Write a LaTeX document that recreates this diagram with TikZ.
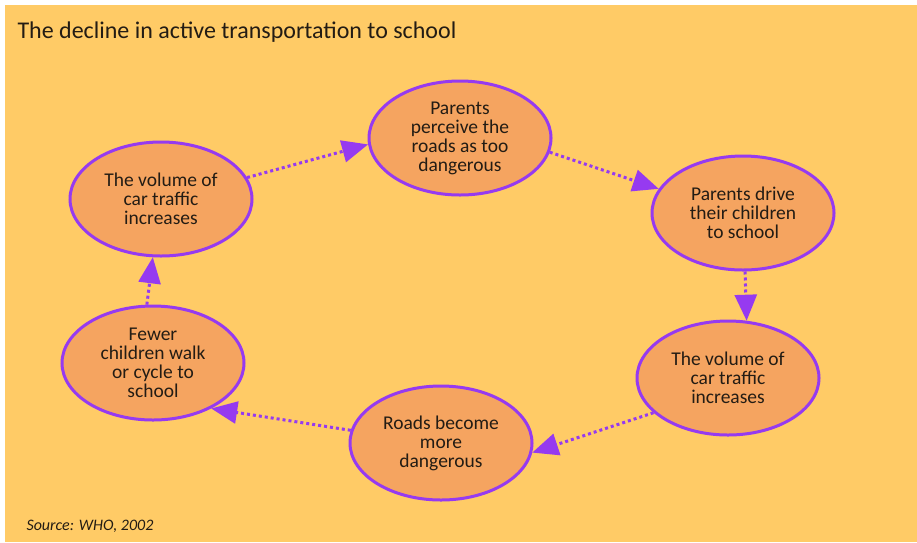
\documentclass[tikz,border=0pt]{standalone}
\usepackage{fontspec}
\setmainfont{Carlito}
\usetikzlibrary{calc,shapes.geometric,arrows.meta}
\definecolor{fond}{RGB}{255,203,102}
\definecolor{bulle}{RGB}{245,164,96}
\definecolor{pourpre}{RGB}{150,58,240}
\definecolor{texte}{RGB}{35,28,20}

\begin{document}
\begin{tikzpicture}[x=1pt,y=-1pt,
    bulle/.style={ellipse,draw=pourpre,fill=bulle,line width=3pt,
      minimum width=182pt,minimum height=114pt,inner sep=0pt,align=center,
      text=texte,font=\fontsize{19.5}{19}\selectfont},
    fleche/.style={draw=pourpre,line width=3pt,dash pattern=on 3pt off 3pt,
      -{Triangle[length=26pt,width=22pt]}}]
      % CADRE
      \useasboundingbox (0,0) rectangle (917,542);
      \fill[fond] (5,5) rectangle (917,542);

      % CENTRES DES BULLES
      \coordinate (C1) at (460,138);
      \coordinate (C2) at (743,213);
      \coordinate (C3) at (728,378);
      \coordinate (C4) at (441,443);
      \coordinate (C5) at (153,363);
      \coordinate (C6) at (161,199);

      % TITRE ET SOURCE
      \node[anchor=base west,text=texte,font=\fontsize{24}{28}\selectfont] (titre) at (14,38) {The decline in active transportation to school};
      \node[anchor=base west,text=texte,font=\fontsize{16}{18}\selectfont\itshape] (source) at (23,530) {Source: WHO, 2002};

      % BULLES
      \node[bulle] (PR) at (C1) {Parents\\perceive the\\roads as too\\dangerous};
      \node[bulle] (PD) at (C2) {Parents drive\\their children\\to school};
      \node[bulle] (TR) at (C3) {The volume of\\car traffic\\increases};
      \node[bulle] (RD) at (C4) {Roads become\\more\\dangerous};
      \node[bulle] (FW) at (C5) {Fewer\\children walk\\or cycle to\\school};
      \node[bulle] (VC) at (C6) {The volume of\\car traffic\\increases};

      % FLECHES
      \draw[fleche] (VC.14) -- (PR.184);
      \draw[fleche] (PR.351) -- (PD.164);
      \draw[fleche] (PD.272) -- (TR.72);
      \draw[fleche] (TR.205) -- (RD.354);
      \draw[fleche] (RD.172) -- (FW.322);
      \draw[fleche] (FW.96) -- (VC.262);
\end{tikzpicture}
\end{document}
